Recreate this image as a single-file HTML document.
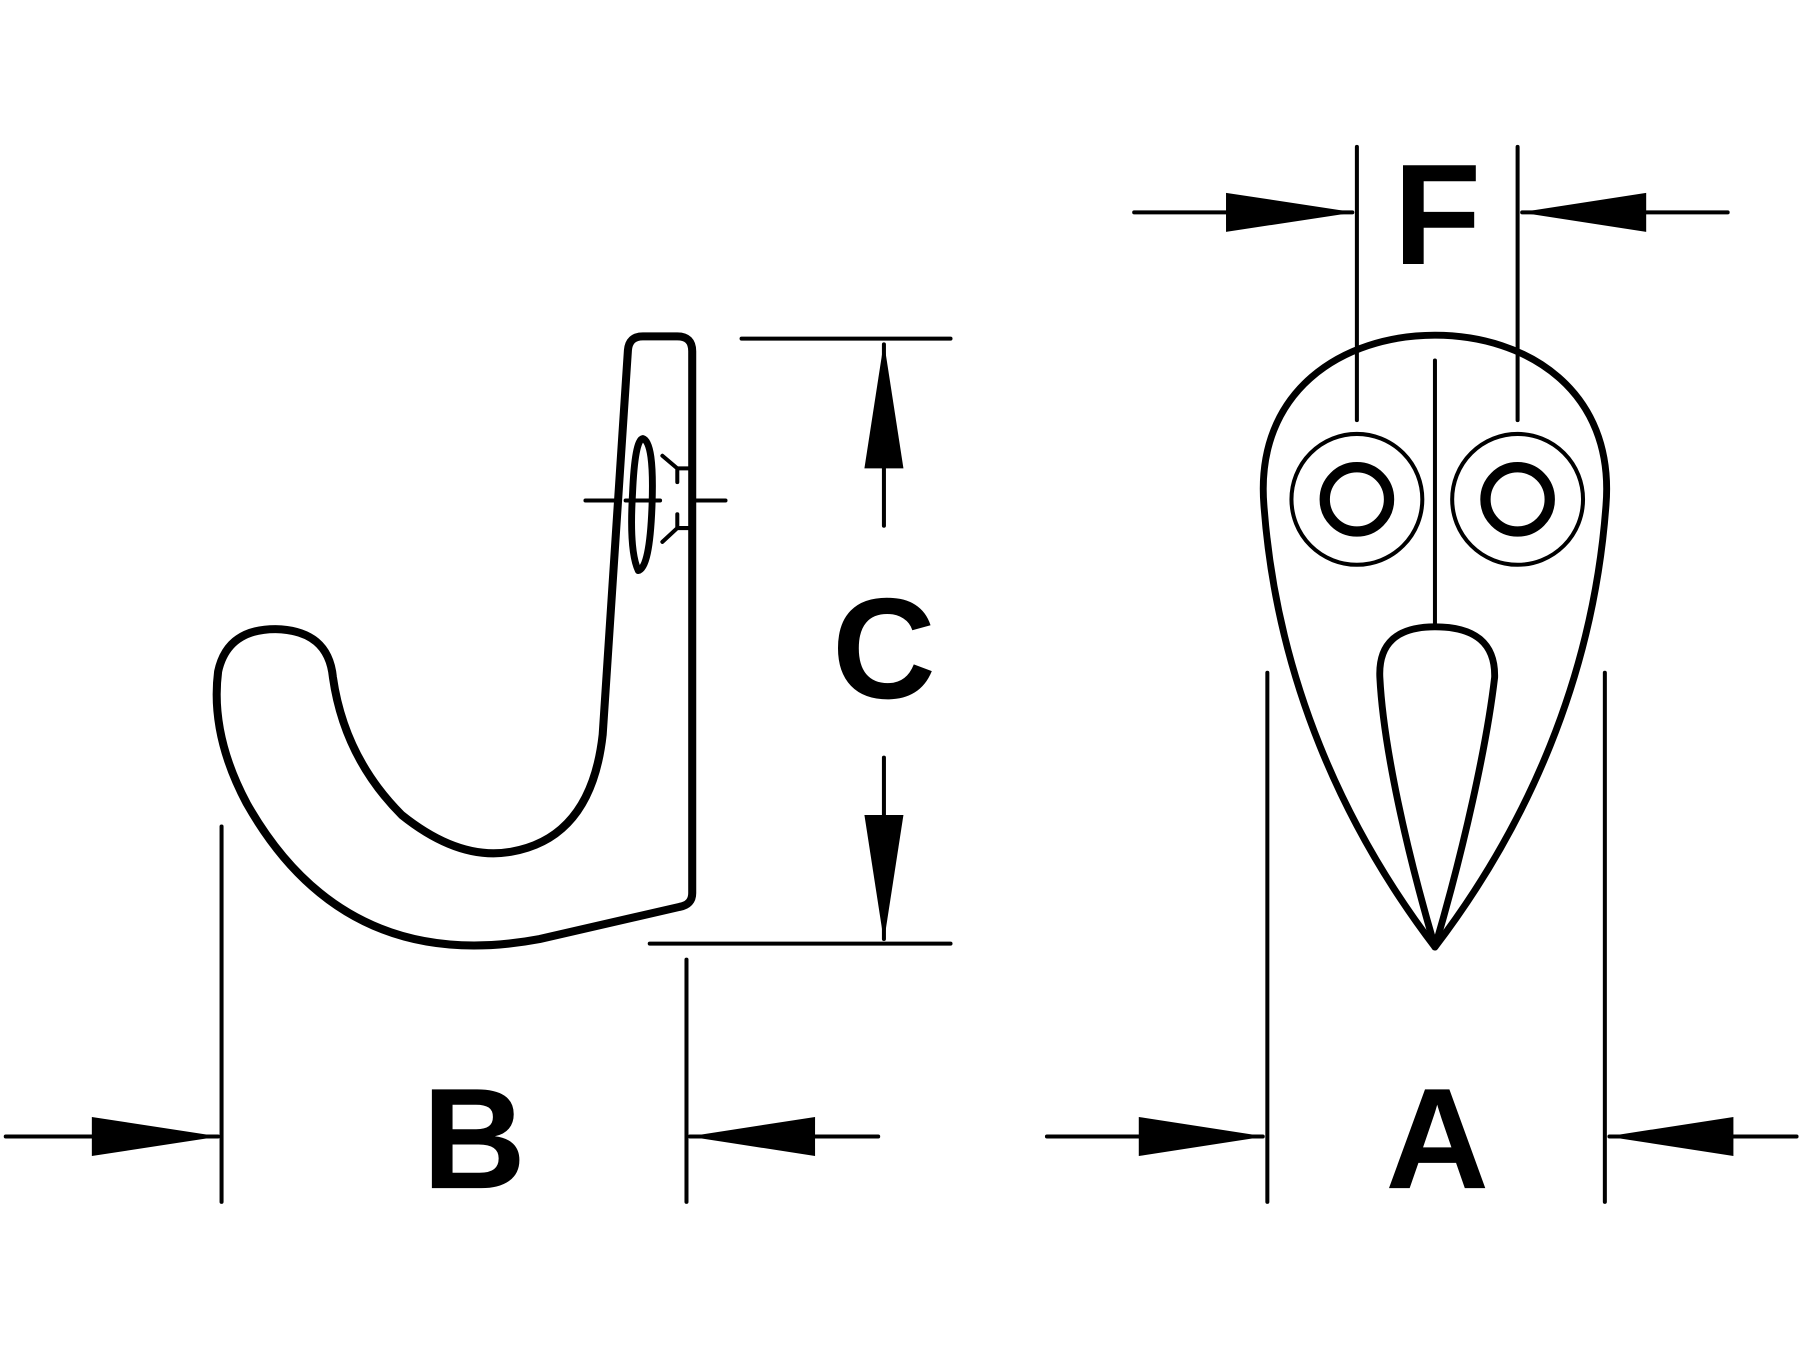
<!DOCTYPE html>
<html><head><meta charset="utf-8"><style>html,body{margin:0;padding:0;background:#fff}svg{display:block}</style></head>
<body>
<svg width="1800" height="1350" viewBox="0 0 1568 1176" xmlns="http://www.w3.org/2000/svg">
<g fill="none" stroke="#000" stroke-linecap="round" stroke-linejoin="round">
<path stroke-width="7" d="M560,293 L590,293 Q603,293 603,306 L603,778 Q603,788 592,790 L470,818 Q300,850 215,700 Q183,640 190,585 Q198,548 240,548 Q286,549 290,590 Q300,660 350,710 Q400,750 445,742 Q515,730 525,640 L547,305 Q548,293 560,293 Z"/>
<path stroke-width="6" d="M560,382 Q570,385 568,440 Q566,495 556,497 Q548,480 551,430 Q553,383 560,382 Z"/>
<path stroke-width="3.5" d="M577,397 L590,408 L590,420 M590,448 L590,460 L577,472 M590,408 L602,408 M590,460 L602,460"/>
<line x1="510" y1="436" x2="535" y2="436" stroke-width="3.5"/>
<line x1="545" y1="436" x2="575" y2="436" stroke-width="3.5"/>
<line x1="605" y1="436" x2="632" y2="436" stroke-width="3.5"/>
<line x1="646" y1="295" x2="828" y2="295" stroke-width="3.5"/>
<line x1="566" y1="822" x2="828" y2="822" stroke-width="3.5"/>
<line x1="770" y1="300" x2="770" y2="458" stroke-width="3.5"/>
<line x1="770" y1="660" x2="770" y2="818" stroke-width="3.5"/>
<line x1="193" y1="720" x2="193" y2="1047" stroke-width="3.5"/>
<line x1="598" y1="836" x2="598" y2="1047" stroke-width="3.5"/>
<line x1="5" y1="990" x2="190" y2="990" stroke-width="3.5"/>
<line x1="601" y1="990" x2="765" y2="990" stroke-width="3.5"/>
<path stroke-width="6" d="M1250,825 C1170,720 1112,590 1101,440 C1093,340 1170,292 1250,292 C1330,292 1407,340 1399,440 C1388,590 1330,720 1250,825 Z"/>
<path stroke-width="6" d="M1250,825 C1225,740 1205,650 1202,590 Q1200,546 1250,546 Q1303,546 1302,590 C1295,650 1275,740 1250,825 Z"/>
<circle cx="1182" cy="435" r="57" stroke-width="3.5"/>
<circle cx="1182" cy="435" r="28" stroke-width="9"/>
<circle cx="1322" cy="435" r="57" stroke-width="3.5"/>
<circle cx="1322" cy="435" r="28" stroke-width="9"/>
<line x1="1250" y1="314" x2="1250" y2="545" stroke-width="3.5"/>
<line x1="1182" y1="128" x2="1182" y2="366" stroke-width="3.5"/>
<line x1="1322" y1="128" x2="1322" y2="366" stroke-width="3.5"/>
<line x1="988" y1="185" x2="1178" y2="185" stroke-width="3.5"/>
<line x1="1326" y1="185" x2="1505" y2="185" stroke-width="3.5"/>
<line x1="1104" y1="586" x2="1104" y2="1047" stroke-width="3.5"/>
<line x1="1398" y1="586" x2="1398" y2="1047" stroke-width="3.5"/>
<line x1="912" y1="990" x2="1100" y2="990" stroke-width="3.5"/>
<line x1="1402" y1="990" x2="1565" y2="990" stroke-width="3.5"/>
</g>
<g fill="#000">
<polygon points="1180,185 1068,168 1068,202"/>
<polygon points="1324,185 1434,168 1434,202"/>
<polygon points="770,298 753,408 787,408"/>
<polygon points="770,820 753,710 787,710"/>
<polygon points="191,990 80,973 80,1007"/>
<polygon points="600,990 710,973 710,1007"/>
<polygon points="1102,990 992,973 992,1007"/>
<polygon points="1400,990 1510,973 1510,1007"/>
</g>
<g font-family="Liberation Sans, sans-serif" font-weight="bold" font-size="125" text-anchor="middle" fill="#000">
<text x="1252" y="230">F</text>
<text x="770" y="608">C</text>
<text x="413" y="1035">B</text>
<text x="1252" y="1035">A</text>
</g>
</svg>
</body></html>
